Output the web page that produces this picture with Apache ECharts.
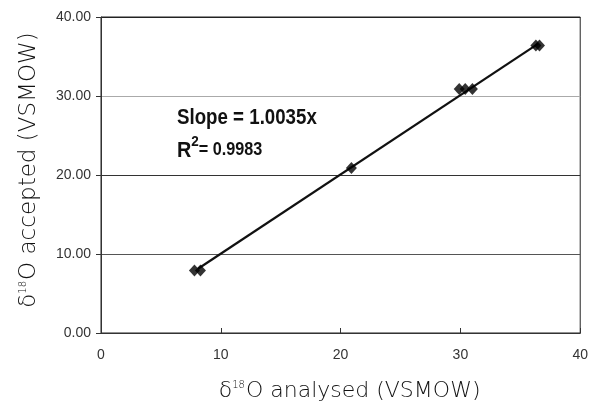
<!DOCTYPE html>
<html>
<head>
<meta charset="utf-8">
<script src="https://cdn.jsdelivr.net/npm/echarts@6/dist/echarts.min.js"></script>
<style>
  html, body { margin: 0; padding: 0; background: #fff; }
  #chart { width: 591px; height: 410px; }
</style>
</head>
<body>
<div id="chart"></div>
<script>
// measured points (analysed vs accepted)
const analysed = [7.8, 8.3, 20.9, 29.9, 30.4, 31.0, 36.3, 36.6];
const accepted = [7.9, 7.9, 20.9, 30.9, 30.9, 30.9, 36.4, 36.4];
const slope = 1.0035;
const r2 = 0.9983;
const trendX = [8.1, 36.5];

const chart = echarts.init(document.getElementById('chart'));
const font = 'Liberation Sans, Arial, sans-serif';
const titleFont = 'DejaVu Sans, sans-serif';

const titleStyle = (size, pad) => ({
  color: '#111', fontSize: size, fontFamily: titleFont, fontWeight: 200, padding: pad,
  rich: { sup: { fontSize: 10, fontFamily: titleFont, fontWeight: 200, verticalAlign: 'top', padding: [0, 1, 12, 0], color: '#111' } }
});

chart.setOption({
  animation: false,
  grid: { left: 101, right: 10, top: 17, bottom: 77, show: true, borderColor: '#222', borderWidth: 1 },
  xAxis: {
    type: 'value', min: 0, max: 40, interval: 10,
    name: 'δ{sup|18}O analysed (VSMOW)',
    nameLocation: 'middle', nameGap: 47,
    nameTextStyle: titleStyle(22, [0, 0, 0, 18]),
    axisLine: { lineStyle: { color: '#333' } },
    axisTick: { inside: true, length: 5, lineStyle: { color: '#333' } },
    axisLabel: { color: '#333', fontSize: 14, fontFamily: font, margin: 15 },
    splitLine: { show: false }
  },
  yAxis: {
    type: 'value', min: 0, max: 40, interval: 10,
    name: 'δ{sup|18}O accepted (VSMOW)',
    nameLocation: 'middle', nameGap: 60,
    nameTextStyle: titleStyle(23, [0, 0, 0, 10]),
    axisLine: { lineStyle: { color: '#333' } },
    axisTick: { length: 5, lineStyle: { color: '#333' } },
    axisLabel: { color: '#333', fontSize: 14, fontFamily: font, margin: 10, formatter: v => v.toFixed(2) },
    splitLine: { show: true, lineStyle: { color: ['#333', '#555', '#333', '#aaa', '#222'], width: 1 } }
  },
  series: [
    {
      type: 'line',
      data: trendX.map(x => [x, x * slope]),
      symbol: 'none',
      lineStyle: { color: '#111', width: 2.2 },
      z: 2
    },
    {
      type: 'scatter',
      data: analysed.map((x, i) => [x, accepted[i]]),
      symbol: 'diamond',
      symbolSize: [11, 12],
      itemStyle: { color: '#000' },
      z: 3
    }
  ],
  graphic: [
    {
      type: 'text', left: 177, top: 107, scaleX: 0.85,
      style: {
        text: 'Slope = ' + slope.toFixed(4) + 'x',
        fill: '#111', font: 'bold 22px ' + font
      }
    },
    {
      type: 'text', left: 177, top: 134, scaleX: 0.9,
      style: {
        text: '{r|R}{sup|2}{t|= ' + r2.toFixed(4) + '}',
        fill: '#111', font: 'bold 18px ' + font,
        rich: {
          r: { fontSize: 22, lineHeight: 28, fontWeight: 'bold', fontFamily: font, verticalAlign: 'bottom', fill: '#111' },
          sup: { fontSize: 15, lineHeight: 15, fontWeight: 'bold', fontFamily: font, verticalAlign: 'top', fill: '#111' },
          t: { fontSize: 18, lineHeight: 18, fontWeight: 'bold', fontFamily: font, verticalAlign: 'bottom', padding: [0, 0, 3, 0], fill: '#111' }
        }
      }
    }
  ]
});
</script>
</body>
</html>
